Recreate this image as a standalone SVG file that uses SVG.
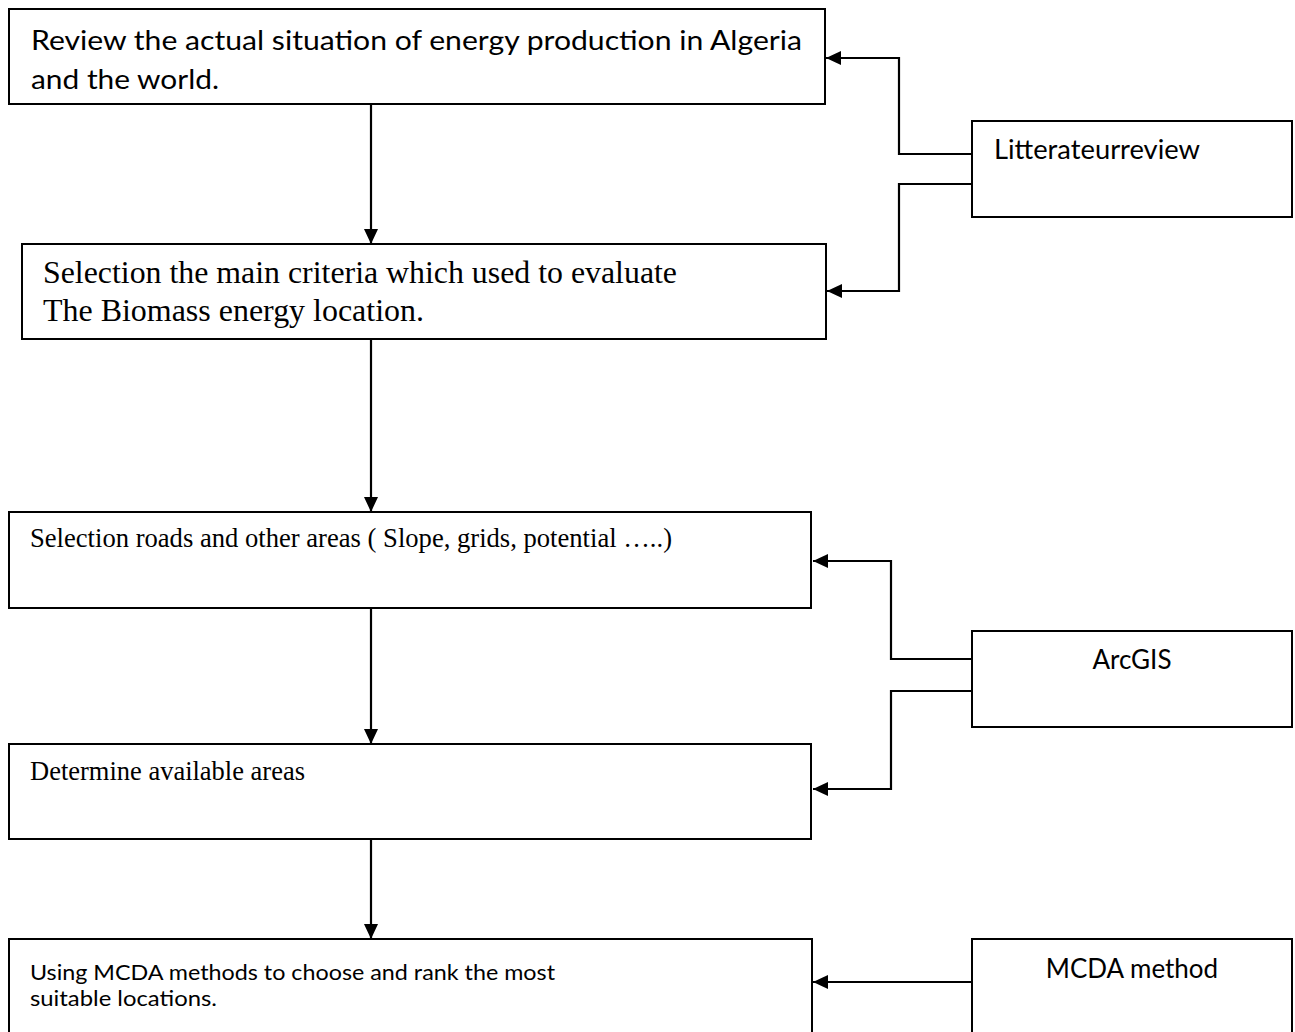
<svg xmlns="http://www.w3.org/2000/svg" width="1295" height="1032" viewBox="0 0 1295 1032">
<style>
.box{fill:#fff;stroke:#000;stroke-width:2}
.sans{font-family:Lato,"Open Sans","Liberation Sans",sans-serif;fill:#000}
.serif{font-family:'Liberation Serif',Tinos,'Times New Roman',serif;fill:#000}
.conn{fill:none;stroke:#000;stroke-width:2.2;marker-end:url(#arr)}
</style>
<defs>
<marker id="arr" markerUnits="userSpaceOnUse" markerWidth="16" markerHeight="16" viewBox="0 0 16 16" refX="15" refY="8" orient="auto">
<path d="M0,1 L15,8 L0,15 Z" fill="#000"/>
</marker>
</defs>
<rect width="1295" height="1032" fill="#fff"/>
<g id="connectors">
<path class="conn" d="M371,104 V244"/>
<path class="conn" d="M371,340 V512"/>
<path class="conn" d="M371,608 V744"/>
<path class="conn" d="M371,839 V939"/>
<path class="conn" d="M972,154 H899 V58 H826"/>
<path class="conn" d="M972,184 H899 V291 H827"/>
<path class="conn" d="M972,659 H891 V561 H813"/>
<path class="conn" d="M972,691 H891 V789 H813"/>
<path class="conn" d="M972,982 H813"/>
</g>
<g id="review">
<rect class="box" x="9" y="9" width="816" height="95"/>
<text class="sans" font-size="27" x="31" y="50" textLength="771" lengthAdjust="spacingAndGlyphs">Review the actual situation of energy production in Algeria</text>
<text class="sans" font-size="27" x="31" y="89" textLength="188" lengthAdjust="spacingAndGlyphs">and the world.</text>
</g>
<g id="criteria">
<rect class="box" x="22" y="244" width="804" height="95"/>
<text class="serif" font-family="Liberation Serif, serif" font-size="31.5" x="43" y="283" textLength="634" lengthAdjust="spacingAndGlyphs">Selection the main criteria which used to evaluate</text>
<text class="serif" font-family="Liberation Serif, serif" font-size="31.5" x="43" y="321" textLength="381" lengthAdjust="spacingAndGlyphs">The Biomass energy location.</text>
</g>
<g id="roads">
<rect class="box" x="9" y="512" width="802" height="96"/>
<text class="serif" font-family="Liberation Serif, serif" font-size="26.5" x="30" y="547" textLength="642" lengthAdjust="spacingAndGlyphs">Selection roads and other areas ( Slope, grids, potential …..)</text>
</g>
<g id="available">
<rect class="box" x="9" y="744" width="802" height="95"/>
<text class="serif" font-family="Liberation Serif, serif" font-size="26.5" x="30" y="780" textLength="275" lengthAdjust="spacingAndGlyphs">Determine available areas</text>
</g>
<g id="mcda">
<rect class="box" x="9" y="939" width="803" height="100"/>
<text class="sans" font-size="21" x="30" y="980" textLength="525" lengthAdjust="spacingAndGlyphs">Using MCDA methods to choose and rank the most</text>
<text class="sans" font-size="21" x="30" y="1006" textLength="187" lengthAdjust="spacingAndGlyphs">suitable locations.</text>
</g>
<g id="literature">
<rect class="box" x="972" y="121" width="320" height="96"/>
<text class="sans" font-size="26" x="994" y="159" textLength="206" lengthAdjust="spacingAndGlyphs">Litterateurreview</text>
</g>
<g id="arcgis">
<rect class="box" x="972" y="631" width="320" height="96"/>
<text class="sans" font-size="26" x="1132" y="669" text-anchor="middle">ArcGIS</text>
</g>
<g id="mcda-method">
<rect class="box" x="972" y="939" width="320" height="100"/>
<text class="sans" font-size="26" x="1132" y="978" text-anchor="middle">MCDA method</text>
</g>
</svg>
